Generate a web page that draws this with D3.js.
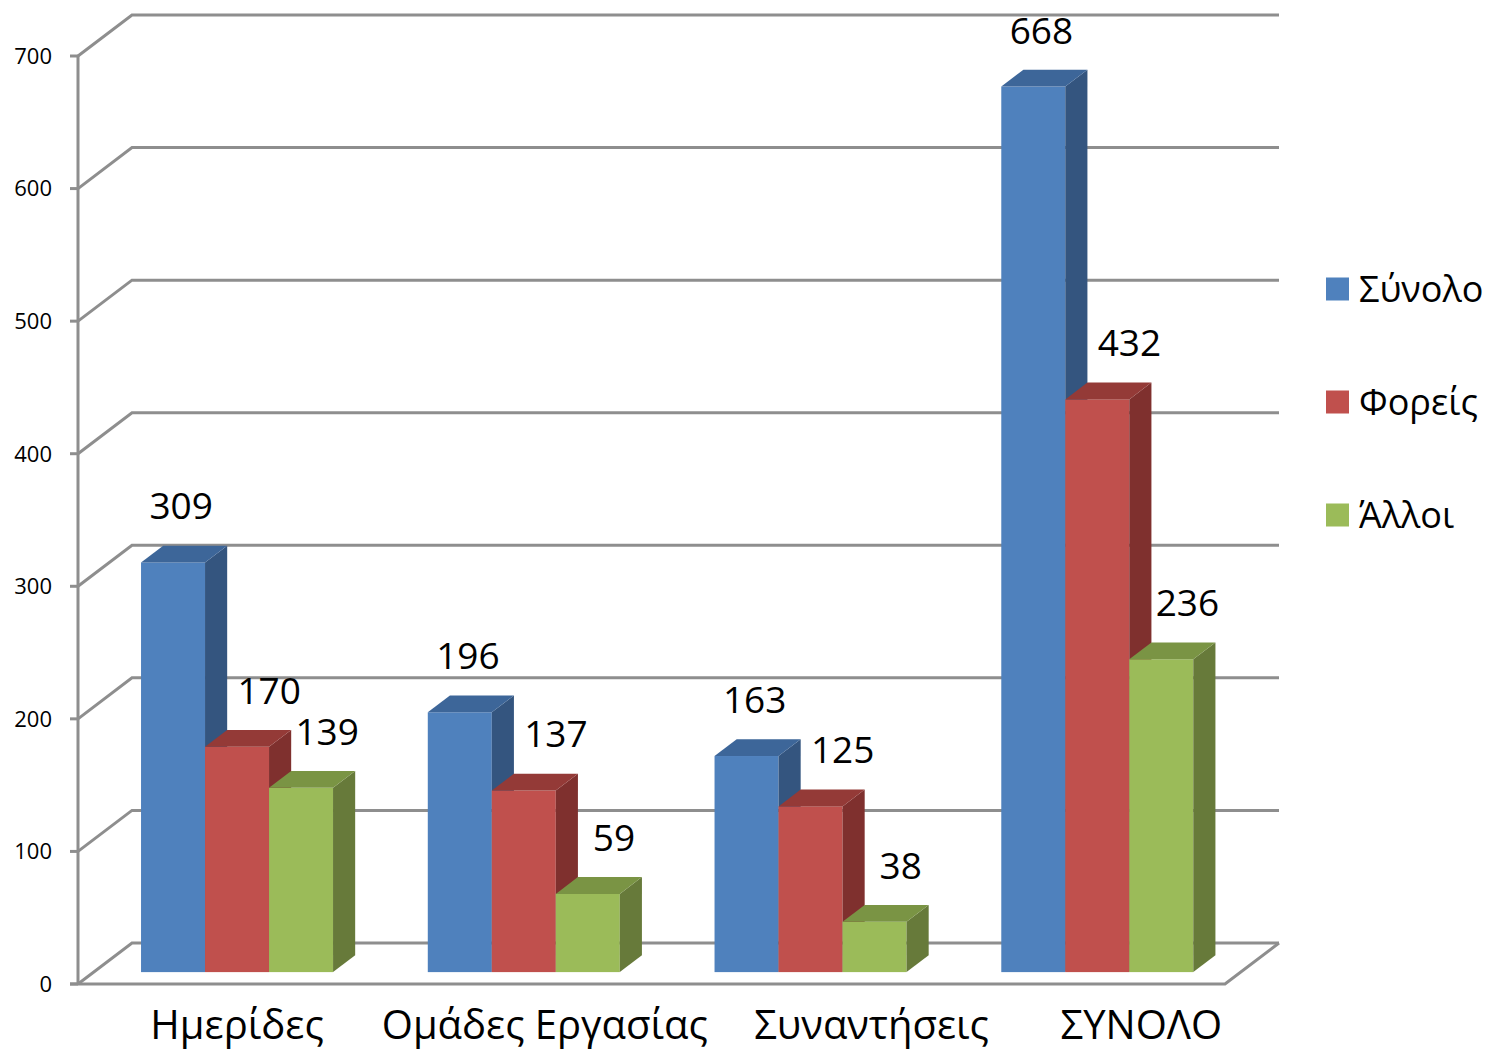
<!DOCTYPE html>
<html>
<head>
<meta charset="utf-8">
<script src="https://cdn.jsdelivr.net/npm/d3@7"></script>
<style>
  body { margin: 0; background: #fff; }
  text { font-family: "Open Sans", "Noto Sans", sans-serif; fill: #000; }
</style>
</head>
<body>
<div class="chart"></div>
<script>
const categories = ["Ημερίδες", "Ομάδες Εργασίας", "Συναντήσεις", "ΣΥΝΟΛΟ"];
const seriesNames = ["Σύνολο", "Φορείς", "Άλλοι"];
const synolo = [309, 196, 163, 668];
const foreis = [170, 137, 125, 432];
const alloi = [139, 59, 38, 236];
const yTicks = [0, 100, 200, 300, 400, 500, 600, 700];

const front = ["#4f81bd", "#c0504d", "#9bbb59"];
const side = ["#34557f", "#7f302e", "#677a3a"];
const topc = ["#3d6699", "#943a37", "#7a9444"];
// small layout nudges (px) for labels, as Excel spreads them
const labelShift = [-14, 10, 4];
const catNudge = [0, 21, 61, 44];

const width = 1490, height = 1054;
const depth = { dx: 54, dy: -41 };      // full depth of the floor
const barOff = 0.29, barDepth = 0.41;   // fraction of depth
const barW = 64;

const svg = d3.select(".chart").append("svg")
    .attr("width", width)
    .attr("height", height);

const y = d3.scaleLinear().domain([0, 700]).range([984, 56]);
const x0 = d3.scaleBand().domain(categories).range([78, 1225]);
const pad = (x0.bandwidth() - barW * seriesNames.length) / 2;
const x1 = d3.scaleBand().domain(seriesNames).range([pad, x0.bandwidth() - pad]);

const data = categories.map((c, i) => ({
    cat: c,
    values: [synolo[i], foreis[i], alloi[i]].map((v, j) => ({ name: seriesNames[j], j, v }))
}));

// walls / gridlines
const grid = svg.append("g")
    .attr("stroke", "#8e8e8e")
    .attr("stroke-width", 3)
    .attr("fill", "none");

yTicks.forEach(t => {
    const yy = y(t);
    grid.append("path")
        .attr("d", `M78,${yy}L${78 + depth.dx},${yy + depth.dy}L${1225 + depth.dx},${yy + depth.dy}`);
    grid.append("line")
        .attr("x1", 70).attr("x2", 78)
        .attr("y1", yy).attr("y2", yy);
});

grid.append("path")
    .attr("d", `M70,${y(0)}L1225,${y(0)}L${1225 + depth.dx},${y(0) + depth.dy}`);
grid.append("line")
    .attr("x1", 78).attr("x2", 78)
    .attr("y1", y(700)).attr("y2", y(0));

// y labels
svg.append("g")
    .selectAll("text")
    .data(yTicks)
    .join("text")
    .attr("x", 52)
    .attr("y", d => y(d))
    .attr("dy", "0.36em")
    .attr("text-anchor", "end")
    .attr("font-size", 22)
    .text(d => d);

// bars
const bdx = depth.dx * barDepth, bdy = depth.dy * barDepth;
const ox = depth.dx * barOff, oy = depth.dy * barOff;

const groups = svg.append("g")
    .selectAll("g")
    .data(data)
    .join("g")
    .attr("transform", d => `translate(${x0(d.cat) + ox},${oy})`);

const bars = groups.selectAll("g")
    .data(d => d.values)
    .join("g");

bars.append("rect")
    .attr("x", d => x1(d.name))
    .attr("y", d => y(d.v))
    .attr("width", x1.bandwidth())
    .attr("height", d => y(0) - y(d.v))
    .attr("fill", d => front[d.j]);

bars.append("path")
    .attr("fill", d => side[d.j])
    .attr("d", d => {
        const xr = x1(d.name) + x1.bandwidth();
        return `M${xr},${y(d.v)}L${xr + bdx},${y(d.v) + bdy}L${xr + bdx},${y(0) + bdy}L${xr},${y(0)}Z`;
    });

bars.append("path")
    .attr("fill", d => topc[d.j])
    .attr("d", d => {
        const xl = x1(d.name), xr = xl + x1.bandwidth(), yt = y(d.v);
        return `M${xl},${yt}L${xr},${yt}L${xr + bdx},${yt + bdy}L${xl + bdx},${yt + bdy}Z`;
    });

bars.append("text")
    .attr("x", d => x1(d.name) + x1.bandwidth() / 2 + bdx + labelShift[d.j])
    .attr("y", d => y(d.v) - 43)
    .attr("text-anchor", "middle")
    .attr("font-size", 37)
    .text(d => d.v);

// category labels
svg.append("g")
    .selectAll("text")
    .data(categories)
    .join("text")
    .attr("x", (d, i) => x0(d) + x0.bandwidth() / 2 + ox + catNudge[i])
    .attr("y", 1039)
    .attr("text-anchor", "middle")
    .attr("font-size", 40)
    .text(d => d);

// legend
const legend = svg.append("g")
    .selectAll("g")
    .data(seriesNames)
    .join("g")
    .attr("transform", (d, i) => `translate(1326,${289 + i * 113})`);

legend.append("rect")
    .attr("y", -11.5)
    .attr("width", 23)
    .attr("height", 23)
    .attr("fill", (d, i) => front[i]);

legend.append("text")
    .attr("x", 33)
    .attr("dy", "0.36em")
    .attr("font-size", 36)
    .text(d => d);
</script>
</body>
</html>
